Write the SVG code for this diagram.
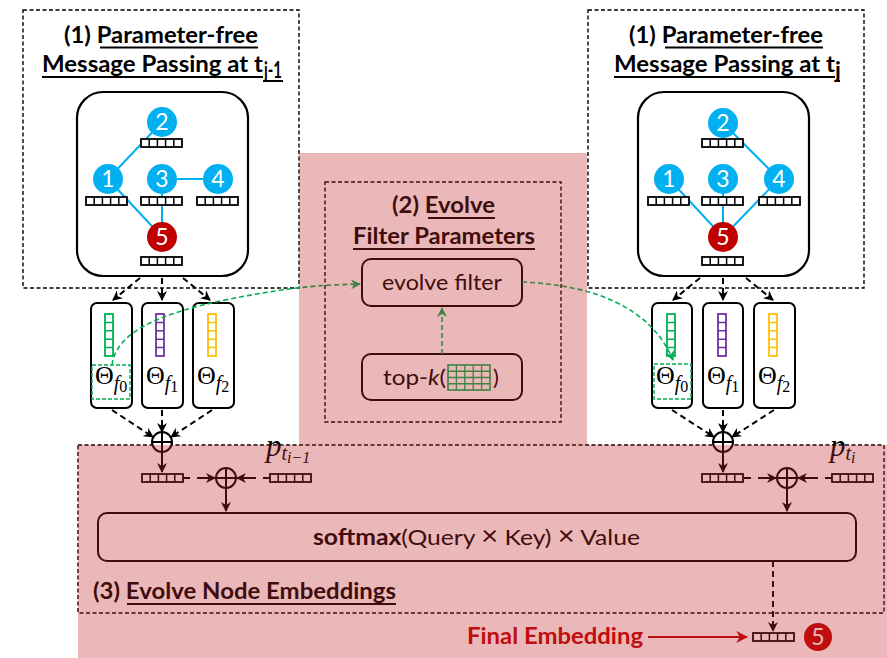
<svg xmlns="http://www.w3.org/2000/svg" xmlns:xlink="http://www.w3.org/1999/xlink" width="887" height="658" viewBox="0 0 887 658">
  <style>
    .dbox { fill: none; stroke: #000; stroke-width: 1.4; stroke-dasharray: 4 2.5; }
    .rbox { fill: #fff; stroke: #000; stroke-width: 2.2; }
    .title { font-family: Lato, "Open Sans", sans-serif; font-weight: bold; font-size: 23px; fill: #000; }
    .ul { stroke: #000; stroke-width: 2; }
    .edge { stroke: #00B0F0; stroke-width: 2; fill: none; }
    .node { fill: #00B0F0; }
    .node5 { fill: #C00000; }
    .num { font-family: Lato, "Open Sans", sans-serif; font-size: 23px; fill: #fff; text-anchor: middle; }
    .lbl { font-family: Lato, "Open Sans", sans-serif; font-size: 22px; fill: #000; }
    .math { font-family: "Liberation Serif", "DejaVu Serif", serif; fill: #000; }
    .conn { stroke: #000; stroke-width: 2; fill: none; stroke-dasharray: 6 4; }
    .solid { stroke: #000; stroke-width: 2; fill: none; }
    .gconn { stroke: #00B050; stroke-width: 1.6; fill: none; stroke-dasharray: 5 3; }
    .oplus { fill: #fff; stroke: #000; stroke-width: 2; }
  </style>
  <defs>
    <marker id="ah" viewBox="0 0 10 10" refX="9" refY="5" markerWidth="10" markerHeight="10" markerUnits="userSpaceOnUse" orient="auto">
      <path d="M0,0 L10,5 L0,10 L3,5 z" fill="#000"/>
    </marker>
    <marker id="ahg" viewBox="0 0 10 10" refX="9" refY="5" markerWidth="10" markerHeight="10" markerUnits="userSpaceOnUse" orient="auto">
      <path d="M0,0 L10,5 L0,10 L3,5 z" fill="#00B050"/>
    </marker>
    <marker id="ahr" viewBox="0 0 10 10" refX="9" refY="5" markerWidth="12" markerHeight="12" markerUnits="userSpaceOnUse" orient="auto">
      <path d="M0,0 L10,5 L0,10 L3,5 z" fill="#C00000"/>
    </marker>
    <!-- horizontal 5-cell embedding bar -->
    <g id="hbar">
      <rect x="0" y="0" width="41" height="8" fill="#fff" stroke="#000" stroke-width="1.8"/>
      <path d="M8.2 0v8M16.4 0v8M24.6 0v8M32.8 0v8" stroke="#000" stroke-width="1.5"/>
    </g>
    <!-- vertical 5-cell filter bars -->
    <g id="vbar-g">
      <rect x="0" y="0" width="8" height="42" fill="#fff" stroke="#00B050" stroke-width="1.8"/>
      <path d="M0 8.4h8M0 16.8h8M0 25.2h8M0 33.6h8" stroke="#00B050" stroke-width="1.5"/>
    </g>
    <g id="vbar-p">
      <rect x="0" y="0" width="8" height="42" fill="#fff" stroke="#7030A0" stroke-width="1.8"/>
      <path d="M0 8.4h8M0 16.8h8M0 25.2h8M0 33.6h8" stroke="#7030A0" stroke-width="1.5"/>
    </g>
    <g id="vbar-y">
      <rect x="0" y="0" width="8" height="42" fill="#fff" stroke="#FFC000" stroke-width="1.8"/>
      <path d="M0 8.4h8M0 16.8h8M0 25.2h8M0 33.6h8" stroke="#FFC000" stroke-width="1.5"/>
    </g>
    <g id="oplus">
      <circle cx="0" cy="0" r="10" class="oplus"/>
      <path d="M-10 0h20M0 -10v20" stroke="#000" stroke-width="2"/>
    </g>
  </defs>

  <rect width="887" height="658" fill="#fff"/>

  <!-- ===== (1) message passing at t_{j-1} ===== -->
  <g id="panel-prev">
    <rect class="dbox" x="23" y="10" width="276" height="278"/>
    <text class="title" x="64" y="43" textLength="194" lengthAdjust="spacingAndGlyphs">(1) Parameter-free</text>
    <line class="ul" x1="100" y1="47.5" x2="258" y2="47.5"/>
    <text class="title" x="42" y="72" textLength="221" lengthAdjust="spacingAndGlyphs">Message Passing at t</text>
    <text class="title" x="264" y="78" font-size="15" textLength="18" lengthAdjust="spacingAndGlyphs">j-1</text>
    <line class="ul" x1="42" y1="77" x2="263" y2="77"/>
    <line class="ul" x1="263" y1="81" x2="283" y2="81"/>
  </g>

  <g id="graph-prev">
    <rect class="rbox" x="77" y="92" width="171" height="184" rx="26"/>
    <path class="edge" d="M108 179L162 122M162 179H218M108 179L162 237M162 179V237"/>
    <use xlink:href="#hbar" x="141" y="139"/>
    <use xlink:href="#hbar" x="86" y="197"/>
    <use xlink:href="#hbar" x="141" y="197"/>
    <use xlink:href="#hbar" x="197" y="197"/>
    <use xlink:href="#hbar" x="141" y="257"/>
    <g id="prev-n2"><circle class="node" cx="162" cy="122" r="15"/><text class="num" x="162" y="130">2</text></g>
    <g id="prev-n1"><circle class="node" cx="108" cy="179" r="15"/><text class="num" x="108" y="187">1</text></g>
    <g id="prev-n3"><circle class="node" cx="162" cy="179" r="15"/><text class="num" x="162" y="187">3</text></g>
    <g id="prev-n4"><circle class="node" cx="218" cy="179" r="15"/><text class="num" x="218" y="187">4</text></g>
    <g id="prev-n5"><circle class="node5" cx="162" cy="237" r="15"/><text class="num" x="162" y="245">5</text></g>
  </g>

  <!-- ===== (1) message passing at t_j ===== -->
  <g id="panel-curr">
    <rect class="dbox" x="588" y="10" width="276" height="278"/>
    <text class="title" x="629" y="43" textLength="194" lengthAdjust="spacingAndGlyphs">(1) Parameter-free</text>
    <line class="ul" x1="665" y1="47.5" x2="823" y2="47.5"/>
    <text class="title" x="614" y="72" textLength="221" lengthAdjust="spacingAndGlyphs">Message Passing at t</text>
    <text class="title" x="835" y="78" font-size="15">j</text>
    <line class="ul" x1="614" y1="77" x2="835" y2="77"/>
    <line class="ul" x1="835" y1="81" x2="840" y2="81"/>
  </g>

  <g id="graph-curr">
    <rect class="rbox" x="638" y="92" width="171" height="184" rx="26"/>
    <path class="edge" d="M723 123L779 179M669 179L723 237M723 179V237M779 179L723 237"/>
    <use xlink:href="#hbar" x="702" y="139"/>
    <use xlink:href="#hbar" x="648" y="197"/>
    <use xlink:href="#hbar" x="702" y="197"/>
    <use xlink:href="#hbar" x="759" y="197"/>
    <use xlink:href="#hbar" x="702" y="257"/>
    <g id="curr-n2"><circle class="node" cx="723" cy="123" r="15"/><text class="num" x="723" y="131">2</text></g>
    <g id="curr-n1"><circle class="node" cx="669" cy="179" r="15"/><text class="num" x="669" y="187">1</text></g>
    <g id="curr-n3"><circle class="node" cx="723" cy="179" r="15"/><text class="num" x="723" y="187">3</text></g>
    <g id="curr-n4"><circle class="node" cx="779" cy="179" r="15"/><text class="num" x="779" y="187">4</text></g>
    <g id="curr-n5"><circle class="node5" cx="723" cy="237" r="15"/><text class="num" x="723" y="245">5</text></g>
  </g>

  <!-- ===== filter cards, t_{j-1} ===== -->
  <g id="filter-prev-f0">
    <rect x="91" y="303" width="41" height="105" rx="6" fill="#fff" stroke="#000" stroke-width="2"/>
    <use xlink:href="#vbar-g" x="105" y="314"/>
    <rect x="92" y="365" width="38" height="34" fill="none" stroke="#00B050" stroke-width="1.4" stroke-dasharray="4 2"/>
    <text class="math" x="95" y="384" font-size="26">Θ<tspan font-style="italic" font-size="20" dy="6">f</tspan><tspan font-size="16" dy="2">0</tspan></text>
  </g>
  <g id="filter-prev-f1">
    <rect x="142" y="303" width="41" height="105" rx="6" fill="#fff" stroke="#000" stroke-width="2"/>
    <use xlink:href="#vbar-p" x="156" y="314"/>
    <text class="math" x="146" y="384" font-size="26">Θ<tspan font-style="italic" font-size="20" dy="6">f</tspan><tspan font-size="16" dy="2">1</tspan></text>
  </g>
  <g id="filter-prev-f2">
    <rect x="193" y="303" width="41" height="105" rx="6" fill="#fff" stroke="#000" stroke-width="2"/>
    <use xlink:href="#vbar-y" x="208" y="314"/>
    <text class="math" x="197" y="384" font-size="26">Θ<tspan font-style="italic" font-size="20" dy="6">f</tspan><tspan font-size="16" dy="2">2</tspan></text>
  </g>

  <!-- ===== filter cards, t_j ===== -->
  <g id="filter-curr-f0">
    <rect x="652" y="303" width="40" height="105" rx="6" fill="#fff" stroke="#000" stroke-width="2"/>
    <use xlink:href="#vbar-g" x="667" y="314"/>
    <rect x="654" y="364" width="37" height="35" fill="none" stroke="#00B050" stroke-width="1.4" stroke-dasharray="4 2"/>
    <text class="math" x="656" y="384" font-size="26">Θ<tspan font-style="italic" font-size="20" dy="6">f</tspan><tspan font-size="16" dy="2">0</tspan></text>
  </g>
  <g id="filter-curr-f1">
    <rect x="703" y="303" width="40" height="105" rx="6" fill="#fff" stroke="#000" stroke-width="2"/>
    <use xlink:href="#vbar-p" x="718" y="314"/>
    <text class="math" x="707" y="384" font-size="26">Θ<tspan font-style="italic" font-size="20" dy="6">f</tspan><tspan font-size="16" dy="2">1</tspan></text>
  </g>
  <g id="filter-curr-f2">
    <rect x="754" y="303" width="41" height="105" rx="6" fill="#fff" stroke="#000" stroke-width="2"/>
    <use xlink:href="#vbar-y" x="769" y="314"/>
    <text class="math" x="758" y="384" font-size="26">Θ<tspan font-style="italic" font-size="20" dy="6">f</tspan><tspan font-size="16" dy="2">2</tspan></text>
  </g>

  <!-- ===== (2) evolve filter parameters ===== -->
  <g id="panel-evolve">
    <rect class="dbox" x="325" y="182" width="236" height="240"/>
    <text class="title" x="392" y="213" textLength="103" lengthAdjust="spacingAndGlyphs">(2) Evolve</text>
    <line class="ul" x1="428" y1="218" x2="495" y2="218"/>
    <text class="title" x="353" y="244" textLength="182" lengthAdjust="spacingAndGlyphs">Filter Parameters</text>
    <line class="ul" x1="353" y1="249" x2="535" y2="249"/>
  </g>
  <g id="evolve-filter">
    <rect x="362" y="259" width="160" height="47" rx="9" fill="#fff" stroke="#000" stroke-width="2"/>
    <text class="lbl" x="382" y="290" textLength="120" lengthAdjust="spacingAndGlyphs">evolve filter</text>
  </g>
  <g id="topk">
    <rect x="362" y="354" width="160" height="46" rx="9" fill="#fff" stroke="#000" stroke-width="2"/>
    <text class="lbl" x="383" y="385" textLength="63" lengthAdjust="spacingAndGlyphs">top-<tspan font-style="italic">k</tspan>(</text>
    <rect x="448" y="365" width="42" height="25" fill="#fff" stroke="#00B050" stroke-width="1.6"/>
    <path d="M456.4 365v25M464.8 365v25M473.2 365v25M481.6 365v25M448 371.25h42M448 377.5h42M448 383.75h42" stroke="#00B050" stroke-width="1.3"/>
    <text class="lbl" x="493" y="385">)</text>
  </g>

  <!-- ===== (3) evolve node embeddings ===== -->
  <g id="panel-embed">
    <rect class="dbox" x="78" y="445" width="806" height="168"/>
    <text class="title" x="93" y="599" textLength="303" lengthAdjust="spacingAndGlyphs">(3) Evolve Node Embeddings</text>
    <line class="ul" x1="127" y1="604" x2="396" y2="604"/>
  </g>
  <g id="softmax">
    <rect x="98" y="513" width="758" height="48" rx="9" fill="#fff" stroke="#000" stroke-width="2"/>
    <text class="lbl" x="313" y="545" textLength="327" lengthAdjust="spacingAndGlyphs"><tspan font-weight="bold">softmax</tspan>(Query <tspan font-size="26">×</tspan>  Key) <tspan font-size="26">×</tspan> Value</text>
  </g>

  <!-- aggregation points and positional encodings -->
  <g id="agg-prev">
    <use xlink:href="#oplus" x="162" y="442"/>
    <use xlink:href="#hbar" x="142" y="474"/>
    <use xlink:href="#oplus" x="226" y="478"/>
    <use xlink:href="#hbar" x="270" y="474"/>
    <text class="math" x="266" y="456" font-size="31" font-style="italic">p<tspan font-size="20" dy="4">t</tspan><tspan font-size="16" dy="3">i−1</tspan></text>
  </g>
  <g id="agg-curr">
    <use xlink:href="#oplus" x="723" y="442"/>
    <use xlink:href="#hbar" x="702" y="474"/>
    <use xlink:href="#oplus" x="787" y="478"/>
    <use xlink:href="#hbar" x="832" y="474"/>
    <text class="math" x="830" y="456" font-size="31" font-style="italic">p<tspan font-size="20" dy="4">t</tspan><tspan font-size="16" dy="3">i</tspan></text>
  </g>

  <!-- final embedding -->
  <g id="final">
    <text x="467" y="644" font-family="Lato, 'Open Sans', sans-serif" font-weight="bold" font-size="23" fill="#C00000" textLength="176" lengthAdjust="spacingAndGlyphs">Final Embedding</text>
    <use xlink:href="#hbar" x="753" y="633"/>
    <circle class="node5" cx="818" cy="637" r="14"/>
    <text class="num" x="818" y="645">5</text>
  </g>

  <!-- ===== connectors ===== -->
  <g id="connectors">
    <!-- graph to filter cards -->
    <path class="conn" d="M140 278L113 300" marker-end="url(#ah)"/>
    <path class="conn" d="M162 278V300" marker-end="url(#ah)"/>
    <path class="conn" d="M183 278L210 300" marker-end="url(#ah)"/>
    <path class="conn" d="M700 278L673 300" marker-end="url(#ah)"/>
    <path class="conn" d="M723 278V300" marker-end="url(#ah)"/>
    <path class="conn" d="M746 278L773 300" marker-end="url(#ah)"/>
    <!-- filter cards to sum -->
    <path class="conn" d="M112 410L153 437" marker-end="url(#ah)"/>
    <path class="conn" d="M162 410V432" marker-end="url(#ah)"/>
    <path class="conn" d="M212 410L171 437" marker-end="url(#ah)"/>
    <path class="conn" d="M672 410L714 437" marker-end="url(#ah)"/>
    <path class="conn" d="M723 410V432" marker-end="url(#ah)"/>
    <path class="conn" d="M774 410L732 437" marker-end="url(#ah)"/>
    <!-- sum to embedding bar -->
    <path class="solid" d="M162 452V472" marker-end="url(#ah)"/>
    <path class="solid" d="M723 452V472" marker-end="url(#ah)"/>
    <!-- bars into positional sum -->
    <path class="solid" d="M183 478H190M197 478H215" marker-end="url(#ah)"/>
    <path class="solid" d="M270 478H263M256 478H237" marker-end="url(#ah)"/>
    <path class="solid" d="M744 478H751M758 478H776" marker-end="url(#ah)"/>
    <path class="solid" d="M832 478H825M818 478H798" marker-end="url(#ah)"/>
    <!-- positional sum into attention -->
    <path class="solid" d="M226 488V511" marker-end="url(#ah)"/>
    <path class="solid" d="M787 488V511" marker-end="url(#ah)"/>
    <!-- attention to final embedding -->
    <path class="conn" d="M773 561V631" marker-end="url(#ah)"/>
    <path d="M648 637H747" stroke="#C00000" stroke-width="2" fill="none" marker-end="url(#ahr)"/>
    <!-- filter evolution flow -->
    <path class="gconn" d="M112 365C116 332 160 313 230 299S330 285 360 284" marker-end="url(#ahg)"/>
    <path class="gconn" d="M442 354V308" marker-end="url(#ahg)"/>
    <path class="gconn" d="M522 282C590 285 650 305 673 360" marker-end="url(#ahg)"/>
  </g>

  <!-- translucent highlight over the evolution stages -->
  <path d="M299 153H587V445H887V658H78V445H299Z" fill="#C02828" fill-opacity="0.33"/>
</svg>
